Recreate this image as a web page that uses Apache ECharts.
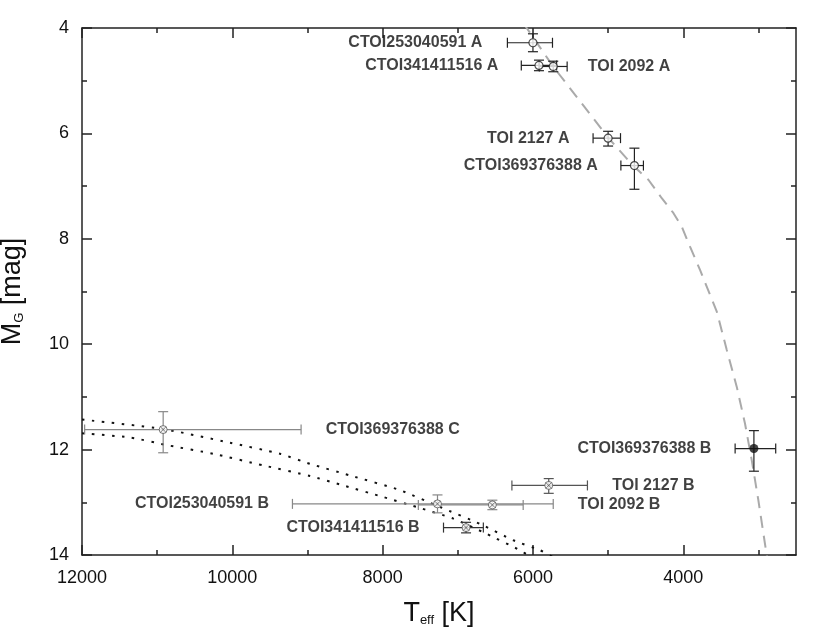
<!DOCTYPE html>
<html>
<head>
<meta charset="utf-8">
<title>Teff - MG diagram</title>
<script src="https://cdn.jsdelivr.net/npm/echarts@6/dist/echarts.min.js"></script>
<style>
    html, body { margin: 0; padding: 0; background: #fff; }
    #chart { width: 830px; height: 633px; }
</style>
</head>
<body>
<div id="chart"></div>
<script>
// components
const starNames = ['CTOI253040591 A', 'CTOI341411516 A', 'TOI 2092 A', 'TOI 2127 A', 'CTOI369376388 A',
    'CTOI369376388 C', 'CTOI253040591 B', 'TOI 2092 B', 'CTOI341411516 B', 'TOI 2127 B', 'CTOI369376388 B'];
const starKind = ['ms', 'ms', 'ms', 'ms', 'ms', 'wd', 'wd', 'wd', 'wd', 'wd', 'md'];
const teff = [6000, 5920, 5730, 5000, 4650, 10920, 7270, 6540, 6890, 5790, 3060];
const teffErrHot = [340, 235, 185, 200, 180, 1045, 1930, 985, 300, 490, 250];
const teffErrCool = [260, 235, 185, 165, 120, 1835, 1540, 410, 230, 515, 290];
const mg = [4.28, 4.71, 4.73, 6.09, 6.61, 11.62, 13.03, 13.05, 13.48, 12.68, 11.98];
const mgErrBright = [0.17, 0.10, 0.10, 0.13, 0.33, 0.34, 0.17, 0.09, 0.10, 0.13, 0.34];
const mgErrFaint = [0.17, 0.10, 0.10, 0.15, 0.45, 0.44, 0.17, 0.09, 0.10, 0.15, 0.43];

// main sequence isochrone (dashed)
const isoTeff = [6130, 6083, 5732, 5307, 5000, 4668, 4464, 4286, 4132, 4020, 3910, 3777, 3554, 3421, 3288, 3178, 3089, 3001, 2889, 2858];
const isoMg = [3.90, 4.00, 4.73, 5.51, 6.08, 6.61, 6.88, 7.23, 7.51, 7.77, 8.15, 8.59, 9.38, 10.11, 10.81, 11.51, 12.20, 12.96, 14.01, 14.30];

// white dwarf cooling tracks (dotted)
const wd1Teff = [12000, 10918, 10031, 9365, 8966, 8434, 7768, 7236, 6704, 6261, 5905, 5693];
const wd1Mg = [11.43, 11.61, 11.87, 12.08, 12.27, 12.49, 12.77, 13.09, 13.41, 13.72, 13.91, 14.07];
const wd2Teff = [12000, 11361, 10852, 10253, 9587, 8966, 8523, 7991, 7546, 7059, 6615, 6172, 6039];
const wd2Mg = [11.69, 11.77, 11.92, 12.08, 12.30, 12.50, 12.68, 12.90, 13.09, 13.31, 13.60, 13.91, 14.03];

// axis ticks
const xMajor = [12000, 10000, 8000, 6000, 4000];
const xMinor = [11000, 9000, 7000, 5000, 3000];

// styling kept apart from the data
const labelSide = [['left', 46], ['left', 36], ['right', 30], ['left', 34], ['left', 32],
    ['right', 158], ['left', 164], ['right', 81], ['left', 42], ['right', 59], ['left', 38]];
const errColor = ['#222', '#222', '#222', '#222', '#222', '#888', '#888', '#888', '#333', '#555', '#222'];

const ink = '#111';
const tickFont = 'Liberation Sans, Arial, sans-serif';
const nameFont = 'Liberation Sans Narrow, Liberation Sans, Arial, sans-serif';
const lineStyle = { color: '#222', width: 1.5 };

const chart = echarts.init(document.getElementById('chart'));

function zip(xs, ys) {
    return xs.map((x, i) => [x, ys[i]]);
}

function pointsOf(kind) {
    const out = [];
    starNames.forEach((name, i) => {
        if (starKind[i] !== kind) return;
        out.push({
            name: name,
            value: [teff[i], mg[i]],
            label: { position: labelSide[i][0], distance: labelSide[i][1] }
        });
    });
    return out;
}

const errData = starNames.map((n, i) => [
    teff[i], mg[i],
    teff[i] + teffErrHot[i], teff[i] - teffErrCool[i],
    mg[i] - mgErrBright[i], mg[i] + mgErrFaint[i]
]);

function renderErr(params, api) {
    const t = api.value(0), m = api.value(1);
    const hot = api.coord([api.value(2), m]);
    const cool = api.coord([api.value(3), m]);
    const up = api.coord([t, api.value(4)]);
    const down = api.coord([t, api.value(5)]);
    const cap = 5;
    const style = { stroke: errColor[params.dataIndex], lineWidth: 1.2 };
    const seg = (x1, y1, x2, y2) => ({ type: 'line', shape: { x1, y1, x2, y2 }, style });
    return {
        type: 'group',
        children: [
            seg(hot[0], hot[1], cool[0], cool[1]),
            seg(hot[0], hot[1] - cap, hot[0], hot[1] + cap),
            seg(cool[0], cool[1] - cap, cool[0], cool[1] + cap),
            seg(up[0], up[1], down[0], down[1]),
            seg(up[0] - cap, up[1], up[0] + cap, up[1]),
            seg(down[0] - cap, down[1], down[0] + cap, down[1])
        ]
    };
}

const pointLabel = {
    show: true,
    formatter: '{b}',
    fontFamily: tickFont,
    fontWeight: 'bold',
    fontSize: 16,
    color: '#111'
};

function xAxisOf(position, major, showLine, tickLen) {
    return {
        type: 'value',
        inverse: true,
        min: 2500,
        max: 12000,
        position: position,
        axisLine: { show: showLine, onZero: false, lineStyle: lineStyle },
        axisTick: { inside: true, length: tickLen, customValues: major, lineStyle: lineStyle },
        axisLabel: { show: false },
        splitLine: { show: false }
    };
}

const bottomAxis = xAxisOf('bottom', xMajor, true, 10);
bottomAxis.axisLabel = {
    show: true,
    customValues: xMajor,
    formatter: v => String(v),
    fontFamily: tickFont,
    fontSize: 18,
    color: ink,
    margin: 14
};
bottomAxis.name = '{a|T}{b|eff}{a| [K]}';
bottomAxis.nameLocation = 'middle';
bottomAxis.nameGap = 45;
bottomAxis.nameTextStyle = {
    rich: {
        a: { fontFamily: nameFont, fontSize: 27, color: ink },
        b: { fontFamily: nameFont, fontSize: 13, color: ink, verticalAlign: 'bottom' }
    }
};

function yAxisOf(position) {
    return {
        type: 'value',
        inverse: true,
        min: 4,
        max: 14,
        interval: 2,
        position: position,
        axisLine: { show: true, onZero: false, lineStyle: lineStyle },
        axisTick: { inside: true, length: 10, lineStyle: lineStyle },
        minorTick: { show: true, splitNumber: 2, length: 5, lineStyle: lineStyle },
        axisLabel: { show: false },
        splitLine: { show: false },
        minorSplitLine: { show: false }
    };
}

const leftAxis = yAxisOf('left');
leftAxis.axisLabel = { show: true, fontFamily: tickFont, fontSize: 18, color: ink, margin: 13 };
leftAxis.name = '{a|M}{b|G}{a| [mag]}';
leftAxis.nameLocation = 'middle';
leftAxis.nameGap = 56;
leftAxis.nameTextStyle = {
    rich: {
        a: { fontFamily: nameFont, fontSize: 27, color: ink },
        b: { fontFamily: nameFont, fontSize: 13, color: ink, verticalAlign: 'bottom' }
    }
};

const option = {
    animation: false,
    backgroundColor: '#fff',
    grid: { left: 82, right: 34, top: 28, bottom: 78, outerBoundsMode: 'none' },
    xAxis: [
        bottomAxis,
        xAxisOf('bottom', xMinor, false, 5),
        xAxisOf('top', xMajor, true, 10),
        xAxisOf('top', xMinor, false, 5)
    ],
    yAxis: [leftAxis, yAxisOf('right')],
    series: [
        {
            name: 'isochrone',
            type: 'line',
            data: zip(isoTeff, isoMg),
            showSymbol: false,
            lineStyle: { color: '#aaa', width: 2, type: [12, 8] },
            z: 1
        },
        {
            name: 'WD track 1',
            type: 'line',
            data: zip(wd1Teff, wd1Mg),
            smooth: 0.2,
            showSymbol: false,
            lineStyle: { color: '#111', width: 2, type: [2.5, 7.5] },
            z: 1
        },
        {
            name: 'WD track 2',
            type: 'line',
            data: zip(wd2Teff, wd2Mg),
            smooth: 0.2,
            showSymbol: false,
            lineStyle: { color: '#111', width: 2, type: [2.5, 7.5] },
            z: 1
        },
        {
            name: 'errors',
            type: 'custom',
            renderItem: renderErr,
            data: errData,
            encode: { x: 0, y: 1 },
            clip: true,
            z: 2
        },
        {
            name: 'primaries',
            type: 'scatter',
            data: pointsOf('ms'),
            symbol: 'circle',
            symbolSize: 8,
            itemStyle: { color: '#fff', borderColor: '#222', borderWidth: 1.2 },
            label: pointLabel,
            z: 3
        },
        {
            name: 'white dwarfs',
            type: 'scatter',
            data: pointsOf('wd'),
            symbol: 'path://M10,0A10,10,0,1,1,-10,0A10,10,0,1,1,10,0ZM-7,-7L7,7M7,-7L-7,7',
            symbolSize: 8,
            itemStyle: { color: '#fff', borderColor: '#555', borderWidth: 1 },
            label: pointLabel,
            z: 3
        },
        {
            name: 'M dwarf',
            type: 'scatter',
            data: pointsOf('md'),
            symbol: 'circle',
            symbolSize: 9,
            itemStyle: { color: '#111' },
            label: pointLabel,
            z: 3
        }
    ]
};

chart.setOption(option);
</script>
</body>
</html>
